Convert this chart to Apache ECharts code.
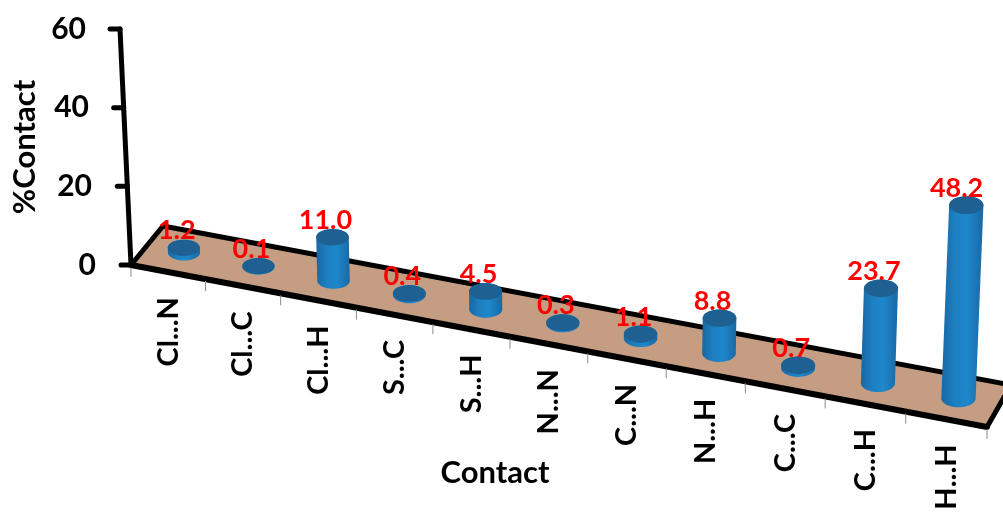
<!DOCTYPE html>
<html>
<head>
<meta charset="utf-8">
<style>html,body{margin:0;padding:0;background:#fff}#c{width:1003px;height:512px}</style>
<script src="https://cdn.jsdelivr.net/npm/echarts@6/dist/echarts.min.js"></script>
</head>
<body>
<div id="c"></div>
<script>
var categories = ['Cl...N','Cl...C','Cl...H','S...C','S...H','N...N','C...N','N...H','C...C','C...H','H...H'];
var contactValues = [1.2,0.1,11.0,0.4,4.5,0.3,1.1,8.8,0.7,23.7,48.2];
var valueLabels = ['1.2','0.1','11.0','0.4','4.5','0.3','1.1','8.8','0.7','23.7','48.2'];
var yTicks = [0,20,40,60];

var FONT = 'Lato, "Open Sans", sans-serif';
var L = 131, W = 856, T = 29, H = 236, B = T + H;

function warp(gx){
  var t = (gx - L) / W;
  return t / (t + (1 - t) * 1.049);
}
// project a grid pixel (gx,gy) at floor depth d (0 front, 1 back) to the oblique 3D view
function project(gx, gy, d){
  var f = warp(gx), h = B - gy;
  var x = L + W * f + d * (32 - 8 * f);
  var y = B + 162 * f + d * (-39 - 3 * f);
  var lean = -0.0466 + (x - L) * 0.000106;
  return [x + lean * h, y - h * (1 + 0.02 * f)];
}
function line(a, b, w, color){
  return {type:'line', shape:{x1:a[0],y1:a[1],x2:b[0],y2:b[1]}, style:{stroke:color,lineWidth:w,lineCap:'round'}};
}
function frame(params, api){
  var band = api.size([1,0])[0];
  var l = api.coord([0,0])[0] - band / 2, base = api.coord([0,0])[1], r = l + band * categories.length;
  var fl = project(l,base,0), bl = project(l,base,1), fr = project(r,base,0), br = project(r,base,1);
  var ch = [{type:'polygon', shape:{points:[fl,bl,br,fr]}, style:{fill:'#C49D83'}}];
  ch.push(line(fl,bl,5,'#000'), line(bl,br,5,'#000'), line(fl,fr,6,'#000'), line(fr,br,5,'#000'));
  // category ticks and labels under the front edge
  for (var i = 0; i <= categories.length; i++){
    var p = project(l + band * i, base, 0);
    ch.push({type:'line', shape:{x1:p[0],y1:p[1]+2,x2:p[0],y2:p[1]+12}, style:{stroke:'#8c8c8c',lineWidth:1}});
    if (i < categories.length){
      var q = project(l + band * (i + 0.5), base, 0);
      ch.push({type:'text', x:q[0], y:q[1]+25, rotation:Math.PI/2,
        style:{text:categories[i], fill:'#000', font:'bold 29px '+FONT, align:'right', verticalAlign:'middle'}});
    }
  }
  // oblique value axis
  var top = api.coord([0,yTicks[yTicks.length-1]])[1];
  var a0 = project(l,base,0), a1 = project(l,top,0);
  ch.push(line(a0,a1,5,'#000'));
  yTicks.forEach(function(v){
    var p = project(l, api.coord([0,v])[1], 0);
    ch.push(line([p[0]-10,p[1]],p,5,'#000'));
  });
  return {type:'group', children:ch};
}
function ellipsePts(cx, cy, rx, ry, a0, a1){
  var pts = [], n = 24;
  for (var k = 0; k <= n; k++){
    var a = a0 + (a1 - a0) * k / n;
    pts.push([cx + rx * Math.cos(a), cy + ry * Math.sin(a)]);
  }
  return pts;
}
function cylinder(params, api){
  var i = api.value(0), v = api.value(1);
  var c = api.coord([i, v]), o = api.coord([i, 0]);
  var b = project(o[0], o[1], 0.5), t = project(c[0], c[1], 0.5);
  var f = warp(o[0]);
  var rx = 16 + 1.2 * f, ry = 8 + f;
  var lower = ellipsePts(b[0], b[1], rx, ry, 0, Math.PI);
  var upper = ellipsePts(t[0], t[1], rx, ry, Math.PI, 2 * Math.PI);
  var grad = new echarts.graphic.LinearGradient(0,0,1,0,[
    {offset:0,color:'#1A67A2'},{offset:0.3,color:'#1C7EC0'},{offset:0.6,color:'#1E88CC'},{offset:1,color:'#1A68A4'}]);
  return {type:'group', children:[
    {type:'polygon', shape:{points:lower.concat(upper)}, style:{fill:grad}},
    {type:'ellipse', shape:{cx:t[0],cy:t[1],rx:rx,ry:ry}, style:{fill:'#1F6092'}},
    {type:'text', x:t[0]-7-Math.max(0,(o[1]-c[1])-100)*0.03, y:t[1]-17, z2:10,
     style:{text:valueLabels[i], fill:'#FF0000', font:'bold 27px '+FONT, align:'center', verticalAlign:'middle'}}
  ]};
}
var rich = {};
var pads = {0:0,20:4,40:7,60:10};
yTicks.forEach(function(v){
  rich['t'+v] = {fontFamily:FONT,fontWeight:'bold',fontSize:30,color:'#000',padding:[0,pads[v],0,0]};
});
var chart = echarts.init(document.getElementById('c'), null, {renderer:'canvas'});
chart.setOption({
  animation:false,
  backgroundColor:'#fff',
  grid:{left:L, top:T, width:W, height:H, containLabel:false, outerBoundsMode:'none'},
  xAxis:{type:'category', data:categories, boundaryGap:true,
    axisLine:{show:false}, axisTick:{show:false}, axisLabel:{show:false}, splitLine:{show:false},
    name:'Contact', nameLocation:'middle', nameGap:192,
    nameTextStyle:{fontFamily:FONT,fontWeight:'bold',fontSize:31,color:'#000',padding:[0,128,0,0]}},
  yAxis:{type:'value', min:0, max:60, interval:20,
    axisLine:{show:false}, axisTick:{show:false}, splitLine:{show:false},
    axisLabel:{margin:35, formatter:function(v){return '{t'+v+'|'+v+'}';}, rich:rich},
    name:'%Contact', nameLocation:'middle', nameRotate:90, nameGap:81,
    nameTextStyle:{fontFamily:FONT,fontWeight:'bold',fontSize:31,color:'#000'}},
  series:[
    {type:'custom', silent:true, z:1, renderItem:frame, data:[[0,0]], encode:{x:0,y:1}, clip:false},
    {type:'custom', silent:true, z:2, renderItem:cylinder,
     data:contactValues.map(function(v,i){return [i,v];}), encode:{x:0,y:1}, clip:false}
  ]
});
</script>
</body>
</html>
